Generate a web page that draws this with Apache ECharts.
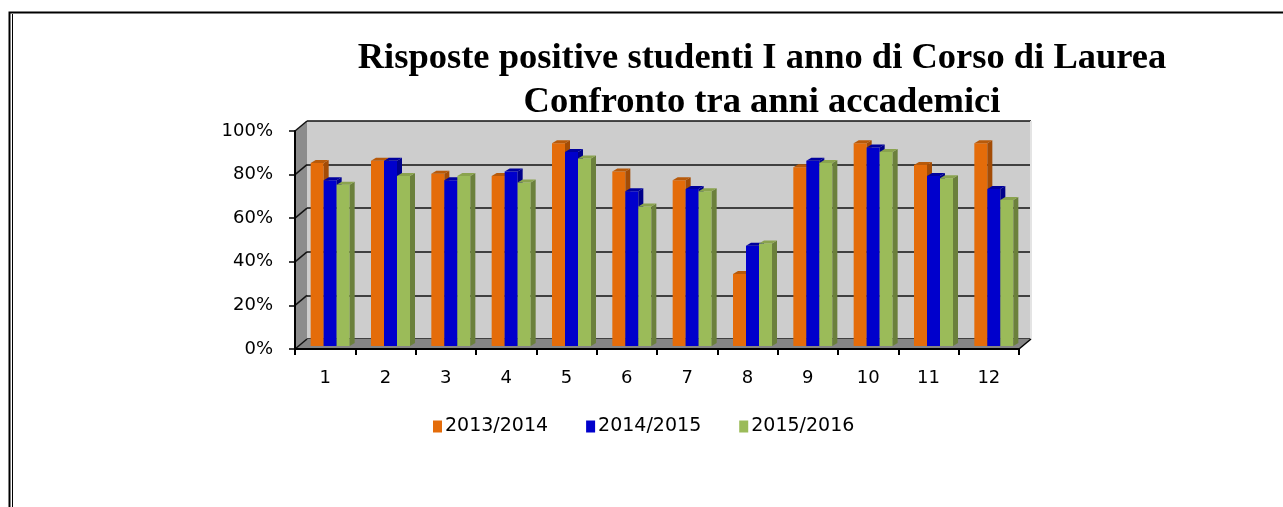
<!DOCTYPE html>
<html><head><meta charset="utf-8">
<script src="https://cdn.jsdelivr.net/npm/echarts@6/dist/echarts.min.js"></script>
<style>html,body{margin:0;padding:0;background:#fff}#c{width:1283px;height:507px}</style>
</head><body><div id="c"></div>
<script>
// ---- data ----
const categories = ['1','2','3','4','5','6','7','8','9','10','11','12'];
const seriesNames = ['2013/2014','2014/2015','2015/2016'];
const v2013 = [84,85,79,78,93,80,76,33,82,93,83,93];
const v2014 = [76,85,76,80,89,71,72,46,85,91,78,72];
const v2015 = [74,78,78,75,86,64,71,47,84,89,77,67];
const yTicks = [0,20,40,60,80,100];
const titleLines = ['Risposte positive studenti I anno di Corso di Laurea','Confronto tra anni accademici'];

// ---- styles ----
const faceColors = ['#E46C0A','#0000CC','#9BBB59'];
const sideColors = ['#A34C06','#00008A','#6B803C'];
const topColors  = ['#B85A0A','#00009E','#8AA34E'];

const FRONT = {left:295, top:131, width:724, height:218};
const BACK  = {left:307, top:121, width:724, height:218};
const BARS  = {left:300, top:128, width:724, height:218};
const DX = BACK.left - FRONT.left, DY = FRONT.top - BACK.top;

const chart = echarts.init(document.getElementById('c'));
const allValues = [v2013, v2014, v2015];

function makeRender(si){
  return function(params, api){
    const cat = api.value(0), val = api.value(1);
    const top = api.coord([cat, val]);
    const base = api.coord([cat, 0]);
    const w = 13, dx = 5, dy = 3;
    const x0 = top[0] - 1.5*w + si*w;
    const yt = top[1], yb = base[1];
    return {type:'group', children:[
      {type:'rect', shape:{x:x0, y:yt, width:w, height:yb-yt}, style:{fill:faceColors[si]}},
      {type:'polygon', shape:{points:[[x0+w,yt],[x0+w+dx,yt-dy],[x0+w+dx,yb-dy],[x0+w,yb]]}, style:{fill:sideColors[si]}},
      {type:'polygon', shape:{points:[[x0,yt],[x0+dx,yt-dy],[x0+w+dx,yt-dy],[x0+w,yt]]}, style:{fill:topColors[si]}}
    ]};
  };
}

const fy = v => FRONT.top + FRONT.height * (1 - v/100);
const graphics = [
  {type:'rect', z:50, shape:{x:9.5, y:12.5, width:1300, height:600}, style:{fill:null, stroke:'#000', lineWidth:2}},
  {type:'line', z:50, shape:{x1:12.5, y1:14, x2:12.5, y2:507}, style:{stroke:'#000', lineWidth:1}},
  {type:'polygon', z:1, shape:{points:[[FRONT.left,FRONT.top],[BACK.left,BACK.top],[BACK.left,BACK.top+BACK.height],[FRONT.left,FRONT.top+FRONT.height]]}, style:{fill:'#8c8c8c'}},
  {type:'polygon', z:1, shape:{points:[[FRONT.left,FRONT.top+FRONT.height],[BACK.left,BACK.top+BACK.height],[BACK.left+BACK.width,BACK.top+BACK.height],[FRONT.left+FRONT.width,FRONT.top+FRONT.height]]}, style:{fill:'#858585'}},
  {type:'line', z:1, shape:{x1:BACK.left+BACK.width, y1:BACK.top, x2:BACK.left+BACK.width, y2:BACK.top+BACK.height}, style:{stroke:'#e4e4e4', lineWidth:2}},
  {type:'line', z:30, shape:{x1:FRONT.left+FRONT.width, y1:FRONT.top+FRONT.height, x2:BACK.left+BACK.width, y2:BACK.top+BACK.height}, style:{stroke:'#000', lineWidth:1.5}}
];
yTicks.forEach(v => {
  graphics.push({type:'line', z:2, shape:{x1:FRONT.left, y1:fy(v), x2:BACK.left, y2:fy(v)-DY}, style:{stroke:'#111', lineWidth:1.5}});
});

const series = seriesNames.map((name, si) => ({
  type:'custom', name:name, xAxisIndex:2, yAxisIndex:2, z:10,
  itemStyle:{color:faceColors[si]},
  renderItem: makeRender(si),
  encode:{x:0, y:1},
  data: allValues[si].map((v,i)=>[i, v])
}));

chart.setOption({
  animation:false,
  backgroundColor:'#fff',
  title:{
    text: titleLines.join('\n'),
    left:757, top:32, textAlign:'center',
    textStyle:{fontFamily:'Liberation Serif', fontSize:36.5, fontWeight:'bold', color:'#000', lineHeight:44}
  },
  legend:{
    data: seriesNames, left:428, top:412, icon:'rect', itemWidth:9, itemHeight:12, itemGap:38,
    textStyle:{fontFamily:'DejaVu Sans', fontSize:19, color:'#000', padding:[0,0,0,-2]}
  },
  graphic: graphics,
  grid:[
    Object.assign({show:true, backgroundColor:'#cdcdcd', borderWidth:0}, BACK),
    Object.assign({}, FRONT),
    Object.assign({}, BARS)
  ],
  xAxis:[
    {type:'category', gridIndex:0, data:categories, show:false},
    {type:'category', gridIndex:1, data:categories, z:20,
     axisLine:{lineStyle:{color:'#000', width:2}},
     axisTick:{show:true, length:6, lineStyle:{color:'#000', width:2}},
     axisLabel:{fontFamily:'DejaVu Sans', fontSize:18, color:'#000', margin:20}},
    {type:'category', gridIndex:2, data:categories, show:false}
  ],
  yAxis:[
    {type:'value', gridIndex:0, min:0, max:100, interval:20,
     axisLine:{show:false}, axisTick:{show:false}, axisLabel:{show:false},
     splitLine:{lineStyle:{color:'#111', width:1.5}}},
    {type:'value', gridIndex:1, min:0, max:100, interval:20, z:20,
     axisLine:{show:true, lineStyle:{color:'#000', width:2}},
     axisTick:{show:true, length:6, lineStyle:{color:'#000', width:1.5}},
     axisLabel:{formatter:'{value}%', fontFamily:'DejaVu Sans', fontSize:18, color:'#000', margin:22},
     splitLine:{show:false}},
    {type:'value', gridIndex:2, min:0, max:100, show:false, splitLine:{show:false}}
  ],
  series: series
});
</script></body></html>
